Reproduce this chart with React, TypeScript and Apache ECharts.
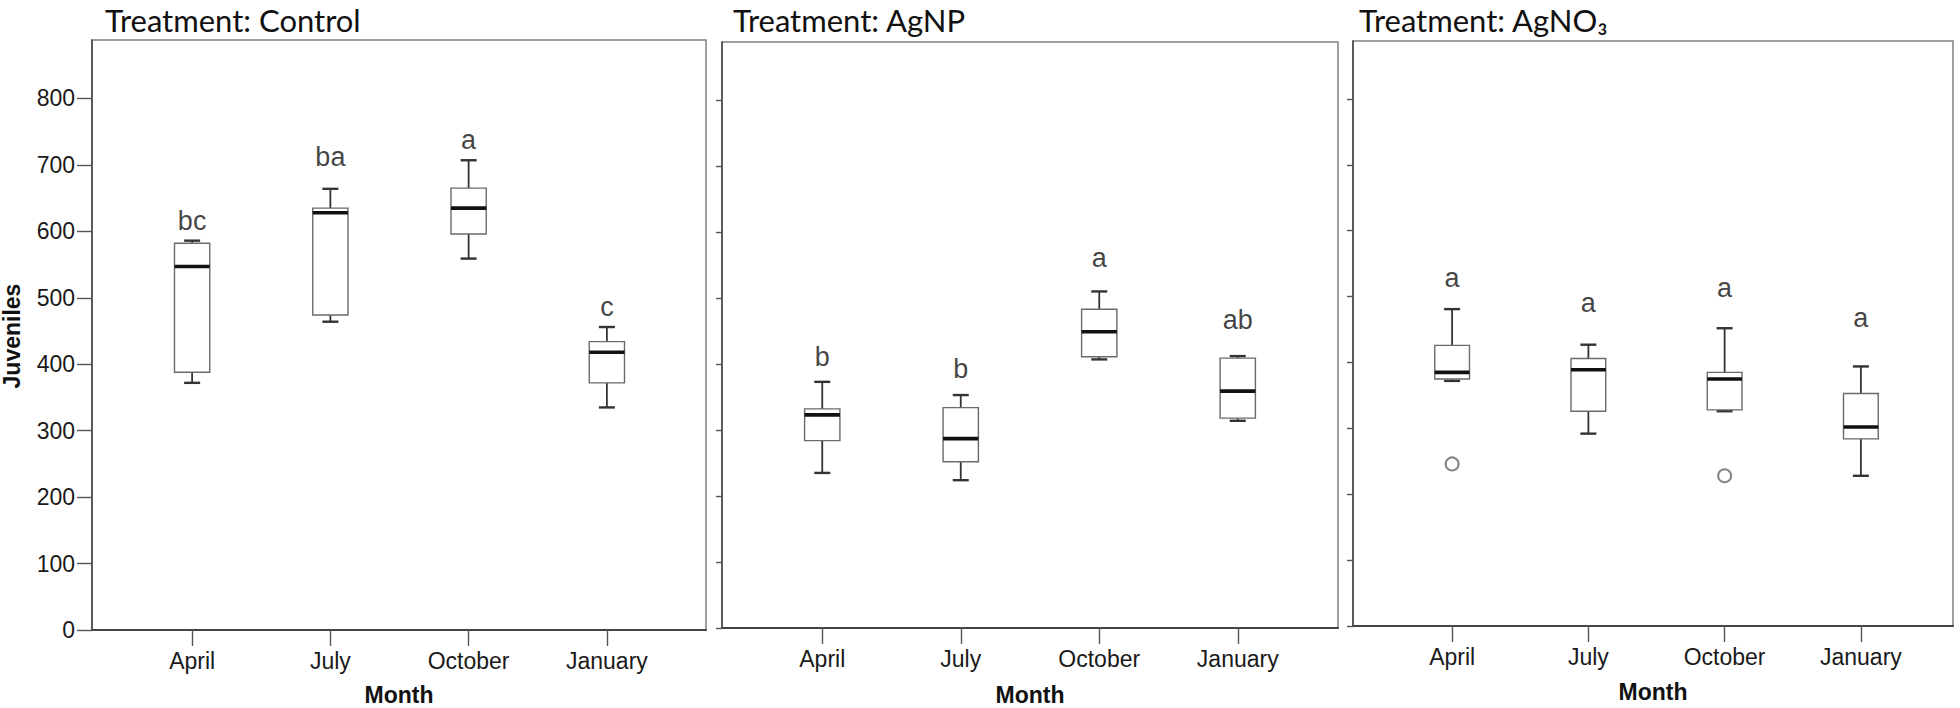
import React, { useEffect, useRef } from 'react';
import * as echarts from 'echarts';

const months = ['April', 'July', 'October', 'January'];
const yTicks = [0, 100, 200, 300, 400, 500, 600, 700, 800];
const yMax = 888;
const panelTitles = ['Treatment: Control', 'Treatment: AgNP', 'Treatment: AgNO₃'];
const xAxisTitle = 'Month';
const yAxisTitle = 'Juveniles';

// Control
const controlMin = [372, 464, 559, 335];
const controlQ1 = [388, 474, 596, 372];
const controlMedian = [547, 628, 635, 418];
const controlQ3 = [582, 635, 665, 434];
const controlMax = [586, 664, 707, 456];
const controlLetters = ['bc', 'ba', 'a', 'c'];
const controlLetterY = [615, 712, 737, 486];

// AgNP
const agnpMin = [235, 224, 407, 314];
const agnpQ1 = [284, 252, 411, 318];
const agnpMedian = [323, 287, 449, 359];
const agnpQ3 = [332, 334, 483, 409];
const agnpMax = [373, 353, 510, 412];
const agnpLetters = ['b', 'b', 'a', 'ab'];
const agnpLetterY = [411, 393, 560, 466];

// AgNO3
const agno3Min = [372, 292, 326, 228];
const agno3Q1 = [375, 326, 328, 284];
const agno3Median = [385, 389, 375, 302];
const agno3Q3 = [426, 406, 385, 353];
const agno3Max = [481, 427, 452, 394];
const agno3Outliers = [246, null, 228, null];
const agno3Letters = ['a', 'a', 'a', 'a'];
const agno3LetterY = [528, 491, 513, 468];

const panels = [
  { min: controlMin, q1: controlQ1, med: controlMedian, q3: controlQ3, max: controlMax, letters: controlLetters, letterY: controlLetterY, outliers: [null, null, null, null] },
  { min: agnpMin, q1: agnpQ1, med: agnpMedian, q3: agnpQ3, max: agnpMax, letters: agnpLetters, letterY: agnpLetterY, outliers: [null, null, null, null] },
  { min: agno3Min, q1: agno3Q1, med: agno3Median, q3: agno3Q3, max: agno3Max, letters: agno3Letters, letterY: agno3LetterY, outliers: agno3Outliers },
];

// layout (px)
const frames = [
  { left: 92, top: 40, width: 614, height: 590 },
  { left: 722, top: 42, width: 616, height: 586 },
  { left: 1353, top: 41, width: 600, height: 585 },
];
const inner = [
  { left: 123, width: 553 },
  { left: 753, width: 554 },
  { left: 1384, width: 545 },
];
const titlePos = [
  { x: 105, y: 20 },
  { x: 733, y: 20 },
  { x: 1359, y: 20 },
];
const monthPos = [
  { x: 399, y: 695 },
  { x: 1030, y: 695 },
  { x: 1653, y: 692 },
];

const AXIS_FONT = '"Liberation Sans", Arial, sans-serif';
const TITLE_FONT = 'Lato, "Open Sans", sans-serif';

export default function App() {
  const ref = useRef<HTMLDivElement>(null);

  useEffect(() => {
    if (!ref.current) return;
    const chart = echarts.init(ref.current, null, { renderer: 'svg' });

    const grid: any[] = [];
    const xAxis: any[] = [];
    const yAxis: any[] = [];
    const series: any[] = [];

    frames.forEach((f) => {
      grid.push({ left: f.left, top: f.top, width: f.width, height: f.height, show: true, borderColor: '#808080', borderWidth: 1.5, backgroundColor: '#fff', containLabel: false });
    });
    frames.forEach((f, i) => {
      grid.push({ left: inner[i].left, top: f.top, width: inner[i].width, height: f.height, show: false, containLabel: false });
    });

    // frame axes
    frames.forEach((f, i) => {
      xAxis.push({
        type: 'value', gridIndex: i, min: 0, max: 1,
        axisLine: { show: true, onZero: false, lineStyle: { color: '#444', width: 2.2 } },
        axisTick: { show: false }, axisLabel: { show: false }, splitLine: { show: false },
      });
      yAxis.push({
        type: 'value', gridIndex: i, min: 0, max: yMax,
        axisLine: { show: true, lineStyle: { color: '#4a4a4a', width: 1.6 } },
        axisTick: { show: true, customValues: yTicks, length: i === 0 ? 15 : 6, lineStyle: { color: '#555', width: 1.4 } },
        axisLabel: { show: i === 0, customValues: yTicks, margin: 17, fontSize: 23, fontFamily: AXIS_FONT, color: '#1a1a1a' },
        splitLine: { show: false },
      });
    });
    // data axes
    frames.forEach((f, i) => {
      xAxis.push({
        type: 'category', gridIndex: 3 + i, data: months, boundaryGap: true,
        axisLine: { show: false },
        axisTick: { show: true, alignWithLabel: true, length: 16, lineStyle: { color: '#555', width: 1.4 } },
        axisLabel: { show: true, margin: 19, fontSize: 23, fontFamily: AXIS_FONT, color: '#1a1a1a' },
        splitLine: { show: false },
      });
      yAxis.push({ type: 'value', gridIndex: 3 + i, min: 0, max: yMax, show: false, splitLine: { show: false } });
    });

    panels.forEach((p, i) => {
      series.push({
        type: 'custom',
        xAxisIndex: 3 + i,
        yAxisIndex: 3 + i,
        data: months.map((_, j) => [j, p.min[j], p.q1[j], p.med[j], p.q3[j], p.max[j]]),
        renderItem: (params: any, api: any) => {
          const x = api.value(0);
          const band = api.size([1, 0])[0];
          const bw = band * 0.255;
          const cw = 16;
          const pMin = api.coord([x, api.value(1)]);
          const pQ1 = api.coord([x, api.value(2)]);
          const pMed = api.coord([x, api.value(3)]);
          const pQ3 = api.coord([x, api.value(4)]);
          const pMax = api.coord([x, api.value(5)]);
          const cx = pMin[0];
          const wStyle = { stroke: '#333', lineWidth: 1.8 };
          const capStyle = { stroke: '#333', lineWidth: 2.4 };
          return {
            type: 'group',
            children: [
              { type: 'line', shape: { x1: cx, y1: pMax[1], x2: cx, y2: pQ3[1] }, style: wStyle },
              { type: 'line', shape: { x1: cx, y1: pQ1[1], x2: cx, y2: pMin[1] }, style: wStyle },
              { type: 'line', shape: { x1: cx - cw / 2, y1: pMax[1], x2: cx + cw / 2, y2: pMax[1] }, style: capStyle },
              { type: 'line', shape: { x1: cx - cw / 2, y1: pMin[1], x2: cx + cw / 2, y2: pMin[1] }, style: capStyle },
              { type: 'rect', shape: { x: cx - bw / 2, y: pQ3[1], width: bw, height: pQ1[1] - pQ3[1] }, style: { fill: '#fff', stroke: '#6a6a6a', lineWidth: 1.4 } },
              { type: 'line', shape: { x1: cx - bw / 2, y1: pMed[1], x2: cx + bw / 2, y2: pMed[1] }, style: { stroke: '#111', lineWidth: 3.6 } },
            ],
          };
        },
        z: 3,
      });

      series.push({
        type: 'scatter',
        xAxisIndex: 3 + i,
        yAxisIndex: 3 + i,
        symbolSize: 1,
        itemStyle: { color: 'rgba(0,0,0,0)' },
        label: { show: true, position: 'inside', formatter: '{b}', fontSize: 27, fontFamily: AXIS_FONT, color: '#111' },
        data: months.map((m, j) => ({ name: p.letters[j], value: [j, p.letterY[j]] })),
        z: 4,
      });

      const outs = p.outliers.map((v, j) => (v == null ? null : [j, v])).filter((d) => d != null);
      if (outs.length) {
        series.push({
          type: 'scatter',
          xAxisIndex: 3 + i,
          yAxisIndex: 3 + i,
          symbol: 'emptyCircle',
          symbolSize: 13,
          itemStyle: { color: '#666', borderWidth: 1.5 },
          data: outs,
          z: 4,
        });
      }
    });

    const graphic: any[] = [];
    panelTitles.forEach((t, i) => {
      graphic.push({
        type: 'text', x: titlePos[i].x, y: titlePos[i].y,
        style: { text: t, font: `31px ${TITLE_FONT}`, lineHeight: 31, fill: '#111', align: 'left', verticalAlign: 'middle' },
      });
      graphic.push({
        type: 'text', x: monthPos[i].x, y: monthPos[i].y,
        style: { text: xAxisTitle, font: `bold 23px ${AXIS_FONT}`, lineHeight: 23, fill: '#111', align: 'center', verticalAlign: 'middle' },
      });
    });
    graphic.push({
      type: 'text', x: 12, y: 336, rotation: Math.PI / 2,
      style: { text: yAxisTitle, font: `bold 23px ${AXIS_FONT}`, lineHeight: 23, fill: '#111', align: 'center', verticalAlign: 'middle' },
    });

    chart.setOption({
      animation: false,
      backgroundColor: '#fff',
      grid, xAxis, yAxis, series, graphic,
    });

    return () => chart.dispose();
  }, []);

  return <div ref={ref} style={{ position: 'fixed', left: 0, top: 0, width: 1960, height: 708, background: '#fff' }} />;
}
